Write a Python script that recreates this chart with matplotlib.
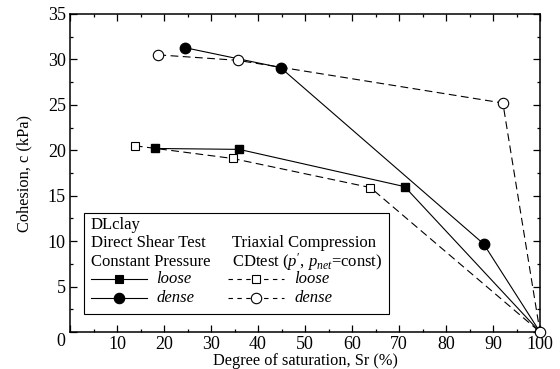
import matplotlib
matplotlib.use("Agg")
import matplotlib.pyplot as plt
from matplotlib.lines import Line2D
from matplotlib.patches import Rectangle
from matplotlib.ticker import MultipleLocator

plt.rcParams['font.family'] = ['Liberation Serif', 'DejaVu Serif']
plt.rcParams['mathtext.fontset'] = 'custom'
plt.rcParams['mathtext.rm'] = 'Liberation Serif'
plt.rcParams['mathtext.it'] = 'Liberation Serif:italic'

# Direct shear test (constant pressure)
ds_loose_sr = [18.1, 36.0, 71.2, 100.0]
ds_loose_c = [20.2, 20.1, 16.0, 0.0]
ds_dense_sr = [24.4, 44.8, 88.0, 100.0]
ds_dense_c = [31.3, 29.1, 9.7, 0.0]
# Triaxial compression CD test
tx_loose_sr = [13.8, 34.6, 63.9, 100.0]
tx_loose_c = [20.5, 19.1, 15.9, 0.0]
tx_dense_sr = [18.8, 35.7, 92.1, 100.0]
tx_dense_c = [30.5, 29.9, 25.2, 0.0]

fig = plt.figure(figsize=(5.6, 3.69), dpi=100)
ax = fig.add_axes([70/560, 1-332/369, 470/560, 318/369])

lw = 0.8
dash = (0, (7, 4))
ax.plot(ds_loose_sr, ds_loose_c, '-', color='black', lw=lw, marker='s', ms=5.6,
        mfc='black', mec='black', zorder=3)
ax.plot(ds_dense_sr, ds_dense_c, '-', color='black', lw=lw, marker='o', ms=7.5,
        mfc='black', mec='black', zorder=3)
ax.plot(tx_loose_sr, tx_loose_c, linestyle=dash, color='black', lw=lw, marker='s', ms=5.6,
        mfc='white', mec='black', mew=0.8, zorder=3)
ax.plot(tx_dense_sr, tx_dense_c, linestyle=dash, color='black', lw=lw, marker='o', ms=7.5,
        mfc='white', mec='black', mew=0.8, zorder=4, clip_on=False)

ax.set_xlim(0, 100)
ax.set_ylim(0, 35)
ax.xaxis.set_major_locator(MultipleLocator(10))
ax.xaxis.set_minor_locator(MultipleLocator(5))
ax.yaxis.set_major_locator(MultipleLocator(5))
ax.yaxis.set_minor_locator(MultipleLocator(2.5))
ax.tick_params(which='both', direction='in', top=True, right=True, labelsize=13,
               width=0.9, colors='black')
ax.tick_params(which='major', length=5, pad=3)
ax.tick_params(which='minor', length=2.5)
for s in ax.spines.values():
    s.set_linewidth(1.1)

xt = list(range(0, 101, 10))
ax.set_xticks(xt)
ax.set_xticklabels([''] + [str(v) for v in xt[1:]])
yt = list(range(0, 36, 5))
ax.set_yticks(yt)
ax.set_yticklabels([''] + [str(v) for v in yt[1:]])
ax.text(-0.019, -0.03, '0', transform=ax.transAxes, ha='center', va='center', fontsize=13)

ax.set_xlabel('Degree of saturation, Sr (%)', fontsize=11.8, labelpad=0)
ax.set_ylabel('Cohesion, c (kPa)', fontsize=11.8, labelpad=11)

# Legend box (drawn manually)
T = ax.transAxes
ax.add_patch(Rectangle((0.0298, 0.0566), 0.679-0.0298, 0.374-0.0566, transform=T,
                       fill=True, facecolor='white', edgecolor='black', lw=0.8, zorder=5))
fs = 12
rows = [0.336, 0.279, 0.221, 0.166, 0.108]
c1, c2 = 0.0447, 0.345
ax.text(c1, rows[0], 'DLclay', transform=T, fontsize=fs, va='center', zorder=6)
ax.text(c1, rows[1], 'Direct Shear Test', transform=T, fontsize=fs, va='center', zorder=6)
ax.text(c1, rows[2], 'Constant Pressure', transform=T, fontsize=fs, va='center', zorder=6)
ax.text(c2, rows[1], 'Triaxial Compression', transform=T, fontsize=fs, va='center', zorder=6)
ax.text(c2, rows[2], r"CDtest ($p'$, $p_{net}$=const)", transform=T, fontsize=fs,
        va='center', zorder=6)

def sample(x0, x1, y, ls, marker, ms, mfc):
    ax.add_line(Line2D([x0, x1], [y, y], transform=T, color='black', lw=lw, linestyle=ls,
                       zorder=6))
    ax.add_line(Line2D([(x0+x1)/2], [y], transform=T, marker=marker, ms=ms, mfc=mfc,
                       mec='black', mew=0.8, linestyle='none', zorder=7))

sample(0.0447, 0.163, rows[3], '-', 's', 5.6, 'black')
sample(0.0447, 0.163, rows[4], '-', 'o', 7.5, 'black')
sample(0.336, 0.456, rows[3], (0, (4, 4)), 's', 5.6, 'white')
sample(0.336, 0.456, rows[4], (0, (4, 4)), 'o', 7.5, 'white')
ax.text(0.183, rows[3], 'loose', transform=T, fontsize=fs, style='italic', va='center', zorder=6)
ax.text(0.183, rows[4], 'dense', transform=T, fontsize=fs, style='italic', va='center', zorder=6)
ax.text(0.477, rows[3], 'loose', transform=T, fontsize=fs, style='italic', va='center', zorder=6)
ax.text(0.477, rows[4], 'dense', transform=T, fontsize=fs, style='italic', va='center', zorder=6)

fig.savefig('out.png', dpi=100, facecolor='white')
